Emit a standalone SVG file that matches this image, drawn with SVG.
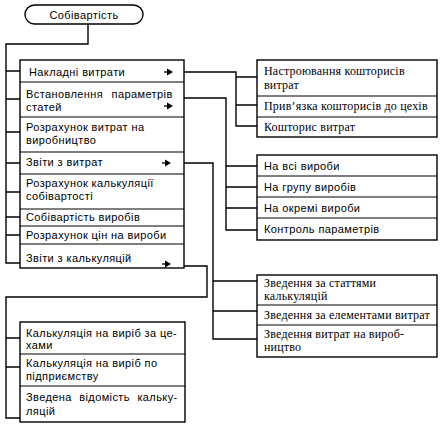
<svg xmlns="http://www.w3.org/2000/svg" xmlns:xlink="http://www.w3.org/1999/xlink" width="448" height="428" viewBox="0 0 448 428">
<style>
.box{fill:#fff;stroke:#000;stroke-width:1.4}
.sep{stroke:#000;stroke-width:1.2}
.ln{fill:none;stroke:#000;stroke-width:1.4}
.s{font-family:"Liberation Sans",Arial,sans-serif;font-size:11px;letter-spacing:0.4px;fill:#000}
.r{font-family:"Liberation Serif","Times New Roman",serif;font-size:12px;letter-spacing:0.2px;fill:#000}
</style>
<defs>
<g id="arr"><path d="M-2 0H1" stroke="#000" stroke-width="1.3"/><polygon points="1,-3.5 7,0 1,3.5" fill="#000"/></g>
</defs>
<rect width="448" height="428" fill="#fff"/>

<g id="connectors">
<path class="ln" d="M88 24V44H6V263H20"/>
<path class="ln" d="M6 71H20M6 99H20M6 132H20M6 163H20M6 192H20M6 217H20M6 235H20"/>
<path class="ln" d="M184 72H236V126H257M236 77H257M236 105H257"/>
<path class="ln" d="M184 98H226V230H257M226 166H257M226 187H257M226 208H257"/>
<path class="ln" d="M184 163H213V339H257M213 281H257M213 311H257"/>
<path class="ln" d="M184 266H207V297H6V418H20M6 338H20M6 367H20"/>
</g>

<g id="root">
<rect class="box" x="25" y="5" width="118" height="19" rx="9.5"/>
<text class="s" x="84" y="18.5" text-anchor="middle">Собівартість</text>
</g>

<g id="main-menu">
<rect class="box" x="20" y="60" width="164" height="208"/>
<path class="sep" d="M20 82H184M20 117H184M20 152H184M20 174H184M20 209H184M20 226H184M20 244H184"/>
<text class="s" x="29" y="75.5">Накладні витрати</text>
<text class="s" x="26" y="98" word-spacing="5">Встановлення параметрів</text>
<text class="s" x="26" y="110.5">статей</text>
<text class="s" x="26" y="131">Розрахунок витрат на</text>
<text class="s" x="26" y="144">виробництво</text>
<text class="s" x="26" y="166">Звіти з витрат</text>
<text class="s" x="26" y="187">Розрахунок калькуляції</text>
<text class="s" x="26" y="200">собівартості</text>
<text class="s" x="26" y="221">Собівартість виробів</text>
<text class="s" x="26" y="239">Розрахунок цін на вироби</text>
<text class="s" x="26" y="262">Звіти з калькуляцій</text>
<use xlink:href="#arr" x="166" y="72"/>
<use xlink:href="#arr" x="166" y="106"/>
<use xlink:href="#arr" x="164" y="163"/>
<use xlink:href="#arr" x="164" y="264"/>
</g>

<g id="overheads">
<rect class="box" x="257" y="60" width="180" height="77"/>
<path class="sep" d="M257 96H437M257 117H437"/>
<text class="r" x="264" y="75">Настроювання кошторисів</text>
<text class="r" x="264" y="89">витрат</text>
<text class="r" x="264" y="110">Прив’язка кошторисів до цехів</text>
<text class="r" x="264" y="131">Кошторис витрат</text>
</g>

<g id="params">
<rect class="box" x="257" y="155" width="180" height="85"/>
<path class="sep" d="M257 176H437M257 197H437M257 218H437"/>
<text class="s" x="264" y="169.5">На всі вироби</text>
<text class="s" x="264" y="190.5">На групу виробів</text>
<text class="s" x="264" y="211.5">На окремі вироби</text>
<text class="s" x="264" y="233">Контроль параметрів</text>
</g>

<g id="summaries">
<rect class="box" x="257" y="275" width="180" height="82"/>
<path class="sep" d="M257 305H437M257 325H437"/>
<text class="r" x="264" y="287">Зведення за статтями</text>
<text class="r" x="264" y="300">калькуляцій</text>
<text class="r" x="264" y="319">Зведення за елементами витрат</text>
<text class="r" x="264" y="338">Зведення витрат на вироб-</text>
<text class="r" x="264" y="351">ництво</text>
</g>

<g id="calc-reports">
<rect class="box" x="20" y="322" width="165" height="100"/>
<path class="sep" d="M20 354H185M20 386H185"/>
<text class="s" x="26" y="337">Калькуляція на виріб за це-</text>
<text class="s" x="26" y="349">хами</text>
<text class="s" x="26" y="367">Калькуляція на виріб по</text>
<text class="s" x="26" y="380">підприємству</text>
<text class="s" x="26" y="401" word-spacing="4">Зведена відомість кальку-</text>
<text class="s" x="26" y="415">ляцій</text>
</g>
</svg>
